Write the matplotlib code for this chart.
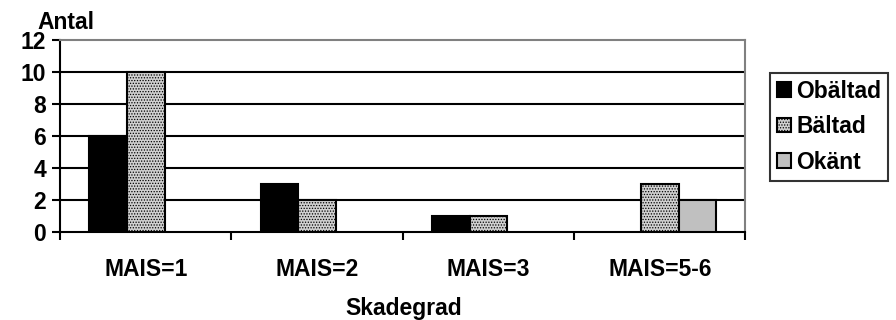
import matplotlib
matplotlib.use('Agg')
import matplotlib.pyplot as plt
import numpy as np

plt.rcParams['font.family'] = ['Liberation Sans', 'DejaVu Sans']
plt.rcParams['font.weight'] = 'bold'
plt.rcParams['hatch.color'] = '#808080'
plt.rcParams['hatch.linewidth'] = 0.6

categories = ['MAIS=1', 'MAIS=2', 'MAIS=3', 'MAIS=5-6']
series = ['Obältad', 'Bältad', 'Okänt']
obaltad = [6, 3, 1, 0]
baltad = [10, 2, 1, 3]
okant = [0, 0, 0, 2]
yticks = [0, 2, 4, 6, 8, 10, 12]

fs = 16.5

fig = plt.figure(figsize=(8.96, 3.2), dpi=100)
ax = fig.add_axes([0.067, 0.275, 0.765, 0.6])

x = np.arange(len(categories))
w = 0.22
styles = [
    dict(color='black', hatch=None),
    dict(color='#d0d0d0', hatch='......'),
    dict(color='#c0c0c0', hatch=None),
]
for k, (vals, st) in enumerate(zip([obaltad, baltad, okant], styles)):
    vals = np.array(vals)
    xs = x + (k - 1) * w
    mask = vals > 0
    ax.bar(xs[mask], vals[mask], width=w, color=st['color'], hatch=st['hatch'],
           edgecolor='black', linewidth=1.5, zorder=3, label=series[k])

ax.set_xlim(-0.5, len(categories) - 0.5)
ax.set_ylim(0, 12)
ax.set_yticks(yticks)
ax.set_yticklabels([str(v) for v in yticks], fontsize=fs, fontweight='bold')
for v in yticks[1:-1]:
    ax.axhline(v, color='black', linewidth=1.5, zorder=1)

ax.set_xticks(x)
ax.set_xticklabels(categories, fontsize=fs, fontweight='bold')
ax.tick_params(axis='x', length=0, pad=19)
ax.set_xticks(np.arange(len(categories) + 1) - 0.5, minor=True)
ax.tick_params(axis='x', which='minor', length=6, width=1.5, direction='out')
ax.tick_params(axis='y', length=6, width=1.5, direction='out', pad=4)

ax.spines['left'].set_linewidth(1.5)
ax.spines['bottom'].set_linewidth(1.5)
ax.spines['top'].set_color('#808080')
ax.spines['right'].set_color('#808080')
ax.spines['top'].set_linewidth(1.5)
ax.spines['right'].set_linewidth(1.5)

fig.text(0.042, 0.93, 'Antal', fontsize=fs, fontweight='bold', ha='left', va='center')
fig.text(0.45, 0.0375, 'Skadegrad', fontsize=fs, fontweight='bold', ha='center', va='center')

leg = ax.legend(loc='upper left', bbox_to_anchor=(1.036, 0.83), frameon=True,
                fancybox=False, edgecolor='black', fontsize=fs,
                handlelength=0.6, handleheight=0.6, handletextpad=0.25,
                labelspacing=0.55, borderpad=0.3, borderaxespad=0)
leg.get_frame().set_linewidth(1.5)

fig.savefig('out.png', dpi=100)
